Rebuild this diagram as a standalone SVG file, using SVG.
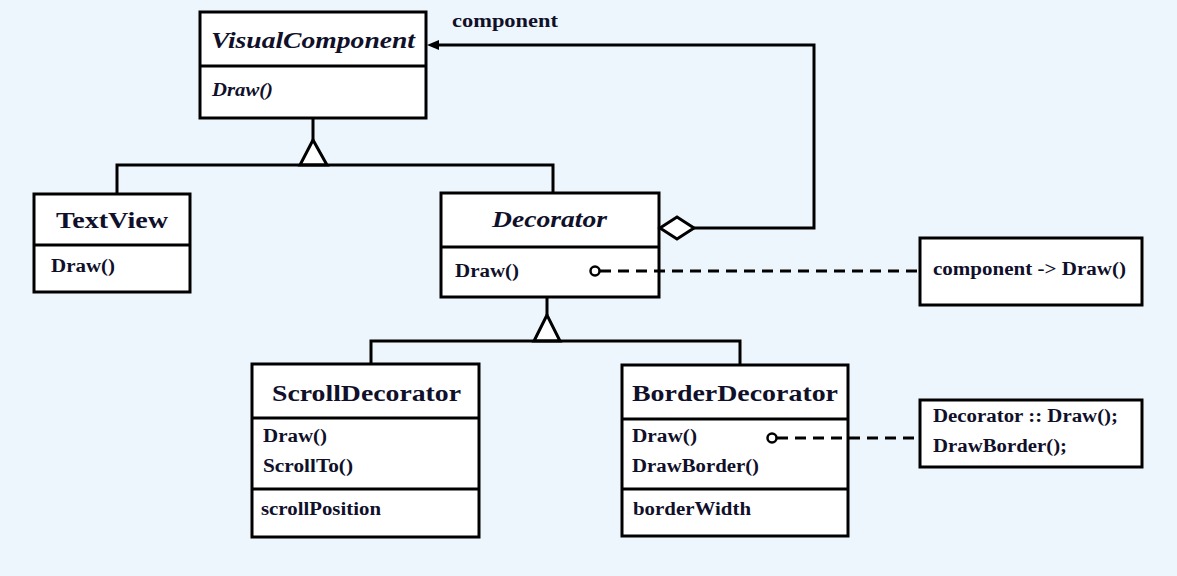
<svg xmlns="http://www.w3.org/2000/svg" width="1177" height="576" viewBox="0 0 1177 576">
<style>
.box{fill:#fff;stroke:#000;stroke-width:3}
.ln{fill:none;stroke:#000;stroke-width:3}
.dash{fill:none;stroke:#000;stroke-width:3;stroke-dasharray:11 7}
.t{font-family:"Liberation Serif","Times New Roman",serif;font-weight:bold;fill:#10102a}
.title{font-size:24px}
.m{font-size:18px}
.it{font-style:italic}
</style>
<rect width="1177" height="576" fill="#eef6fd"/>
<g id="VisualComponent">
<rect class="box" x="200" y="12" width="226" height="106"/>
<line class="ln" x1="200" y1="66" x2="426" y2="66"/>
<text class="t title it" x="211" y="48" textLength="204" lengthAdjust="spacingAndGlyphs">VisualComponent</text>
<text class="t m it" x="212" y="96" textLength="61" lengthAdjust="spacingAndGlyphs">Draw()</text>
</g>
<g id="TextView">
<rect class="box" x="34" y="194" width="156" height="98"/>
<line class="ln" x1="34" y1="245" x2="190" y2="245"/>
<text class="t title" x="56" y="228" textLength="112" lengthAdjust="spacingAndGlyphs">TextView</text>
<text class="t m" x="51" y="272" textLength="64" lengthAdjust="spacingAndGlyphs">Draw()</text>
</g>
<g id="Decorator">
<rect class="box" x="441" y="193" width="218" height="104"/>
<line class="ln" x1="441" y1="247" x2="659" y2="247"/>
<text class="t title it" x="492" y="227" textLength="115" lengthAdjust="spacingAndGlyphs">Decorator</text>
<text class="t m" x="455" y="277" textLength="64" lengthAdjust="spacingAndGlyphs">Draw()</text>
</g>
<g id="Note1">
<rect class="box" x="920" y="238" width="222" height="67"/>
<text class="t m" x="933" y="275" textLength="193" lengthAdjust="spacingAndGlyphs">component -&gt; Draw()</text>
</g>
<g id="ScrollDecorator">
<rect class="box" x="252" y="364" width="227" height="173"/>
<line class="ln" x1="252" y1="418" x2="479" y2="418"/>
<line class="ln" x1="252" y1="489" x2="479" y2="489"/>
<text class="t title" x="272" y="401" textLength="189" lengthAdjust="spacingAndGlyphs">ScrollDecorator</text>
<text class="t m" x="263" y="442" textLength="64" lengthAdjust="spacingAndGlyphs">Draw()</text>
<text class="t m" x="263" y="472" textLength="90" lengthAdjust="spacingAndGlyphs">ScrollTo()</text>
<text class="t m" x="261" y="515" textLength="120" lengthAdjust="spacingAndGlyphs">scrollPosition</text>
</g>
<g id="BorderDecorator">
<rect class="box" x="622" y="365" width="226" height="171"/>
<line class="ln" x1="622" y1="419" x2="848" y2="419"/>
<line class="ln" x1="622" y1="489" x2="848" y2="489"/>
<text class="t title" x="632" y="401" textLength="206" lengthAdjust="spacingAndGlyphs">BorderDecorator</text>
<text class="t m" x="632" y="442" textLength="65" lengthAdjust="spacingAndGlyphs">Draw()</text>
<text class="t m" x="632" y="472" textLength="127" lengthAdjust="spacingAndGlyphs">DrawBorder()</text>
<text class="t m" x="633" y="515" textLength="118" lengthAdjust="spacingAndGlyphs">borderWidth</text>
</g>
<g id="Note2">
<rect class="box" x="920" y="400" width="222" height="67"/>
<text class="t m" x="933" y="422" textLength="185" lengthAdjust="spacingAndGlyphs">Decorator :: Draw();</text>
<text class="t m" x="933" y="452" textLength="134" lengthAdjust="spacingAndGlyphs">DrawBorder();</text>
</g>
<g id="connectors">
<line class="ln" x1="313" y1="119" x2="313" y2="140"/>
<polygon class="box" points="313,140 300,165 327,165"/>
<polyline class="ln" points="117,193 117,165 553,165 553,192"/>
<line class="ln" x1="547" y1="298" x2="547" y2="315"/>
<polygon class="box" points="547,315 534,341 560,341"/>
<polyline class="ln" points="371,363 371,341 740,341 740,364"/>
<polygon class="box" points="660,228 677,217 694,228 677,239"/>
<polyline class="ln" points="694,228 814,228 814,45 438,45"/>
<path d="M427,45 L439,40 L439,50 Z" fill="#000"/>
<text class="t" x="452" y="27" font-size="19" textLength="106" lengthAdjust="spacingAndGlyphs">component</text>
<line class="dash" x1="600" y1="271" x2="919" y2="271"/>
<circle cx="595" cy="271" r="4.5" fill="#fff" stroke="#000" stroke-width="2.5"/>
<line class="dash" x1="777" y1="438" x2="919" y2="438"/>
<circle cx="772" cy="438" r="4.5" fill="#fff" stroke="#000" stroke-width="2.5"/>
</g>
</svg>
